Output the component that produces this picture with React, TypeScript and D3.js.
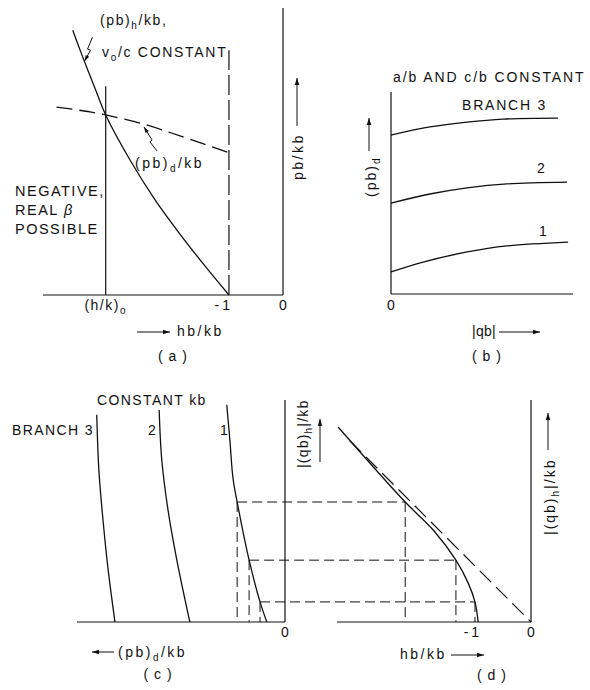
import React, { useRef, useEffect } from 'react';
import * as d3 from 'd3';

// (a) hb/kb against pb/kb
const hbH = [-3.89, -3.69, -3.48, -3.28, -2.83, -2.37, -1.91, -1.44, -1.0];
const pbH = [1.47, 1.31, 1.15, 1.0, 0.75, 0.53, 0.34, 0.16, 0];
const hbD = [-4.19, -3.57, -3.28, -2.59, -1.85, -1.0];
const pbD = [1.044, 1.017, 1.0, 0.95, 0.878, 0.79];
const hkZero = -3.28;
const ticksA = [{ v: hkZero, t: '(h/k)_o' }, { v: -1, t: '-1' }, { v: 0, t: '0' }];

// (b) |qb| against (pb)d, branches 3, 2, 1
const qbB = [[0, 2.14, 4.18, 6.15, 9.18], [0, 2.14, 4.18, 6.37, 9.67], [0, 1.76, 4.18, 6.37, 9.73]];
const pbdB = [[7.87, 8.27, 8.51, 8.66, 8.71], [4.5, 4.95, 5.25, 5.45, 5.54], [1.09, 1.58, 2.08, 2.38, 2.57]];
const branchB = ['BRANCH 3', '2', '1'];

// (c) (pb)d/kb against |(qb)h|/kb, branches 3, 2, 1
const pbdC = [[3.62, 3.58, 3.5, 3.4, 3.27], [2.42, 2.37, 2.25, 2.08, 1.83], [1.12, 1.06, 1.0, 0.92, 0.69, 0.48, 0.35]];
const qC = [[3.92, 2.88, 1.93, 0.98, 0], [4.01, 3.07, 2.12, 1.17, 0], [4.11, 3.44, 2.72, 2.27, 1.17, 0.38, 0]];
const branchC = ['BRANCH 3', '2', '1'];

// (d) hb/kb against |(qb)h|/kb
const hbDd = [-3.65, -2.38, -1.85, -1.42, -1.19, -1.06, -1.0];
const qD = [3.69, 2.27, 1.74, 1.17, 0.74, 0.38, 0];
const hbAsym = [-3.43, 0];
const qAsym = [3.43, 0];

// construction lines between (c) and (d)
const projQ = [2.27, 1.17, 0.38];
const projPbd = [0.92, 0.69, 0.48];
const projHb = [-2.38, -1.42, -1.06];

const FONT = "'Liberation Sans', Arial, Helvetica, sans-serif";
const INK = '#111';

type Opt = { anchor?: string; rotate?: boolean; ls?: number; size?: number };

// text with "_x" meaning subscript x
function addText(g: any, x: number, y: number, str: string, opt: Opt = {}) {
  const { anchor = 'start', rotate = false, ls = 1, size = 14 } = opt;
  const t = g.append('text')
    .attr('transform', `translate(${x},${y})` + (rotate ? ' rotate(-90)' : ''))
    .attr('text-anchor', anchor)
    .attr('font-size', size)
    .attr('fill', INK)
    .style('letter-spacing', `${ls}px`);
  const parts = str.split(/_(.)/);
  let cur = 0;
  parts.forEach((p, i) => {
    if (!p) return;
    const sub = i % 2 === 1;
    const target = sub ? 4 : 0;
    t.append('tspan')
      .attr('dy', target - cur)
      .attr('font-size', sub ? 10 : null)
      .text(p);
    cur = target;
  });
  return t;
}

function head(g: any, x1: number, y1: number, x2: number, y2: number, len = 7, w = 2.3) {
  const a = Math.atan2(y2 - y1, x2 - x1);
  const c = Math.cos(a), s = Math.sin(a);
  const pts: [number, number][] = [
    [x2, y2],
    [x2 - len * c + w * s, y2 - len * s - w * c],
    [x2 - len * c - w * s, y2 - len * s + w * c],
  ];
  g.append('path').attr('d', d3.line()(pts) + 'Z').attr('fill', INK);
}

function arrow(g: any, x1: number, y1: number, x2: number, y2: number) {
  g.append('line').attr('x1', x1).attr('y1', y1).attr('x2', x2).attr('y2', y2)
    .attr('stroke', INK).attr('stroke-width', 1);
  head(g, x1, y1, x2, y2);
}

function leader(g: any, pts: [number, number][]) {
  g.append('path').attr('d', d3.line()(pts)).attr('fill', 'none')
    .attr('stroke', INK).attr('stroke-width', 1);
  const n = pts.length;
  head(g, pts[n - 2][0], pts[n - 2][1], pts[n - 1][0], pts[n - 1][1], 6, 2);
}

function seg(g: any, x1: number, y1: number, x2: number, y2: number, dash: string | null = null, w = 1.2) {
  g.append('line').attr('x1', x1).attr('y1', y1).attr('x2', x2).attr('y2', y2)
    .attr('stroke', INK).attr('stroke-width', w)
    .attr('stroke-dasharray', dash);
}

function curve(g: any, xs: number[], ys: number[], sx: any, sy: any, dash: string | null = null) {
  const line = d3.line<number>()
    .x((d, i) => sx(xs[i]))
    .y((d, i) => sy(ys[i]))
    .curve(d3.curveCatmullRom.alpha(0.5));
  g.append('path').attr('d', line(xs)).attr('fill', 'none')
    .attr('stroke', INK).attr('stroke-width', 1.3)
    .attr('stroke-dasharray', dash);
}

const App = () => {
  const svgRef = useRef<SVGSVGElement>(null);

  useEffect(() => {
    const svg = d3.select(svgRef.current);
    svg.selectAll('*').remove();
    svg.append('rect').attr('width', 590).attr('height', 690).attr('fill', '#fff');
    const g = svg.append('g').attr('font-family', FONT);

    // ---------- (a)
    const xA = d3.scaleLinear().domain([-4.44, 0]).range([43, 283]);
    const yA = d3.scaleLinear().domain([0, 1.594]).range([295, 8]);
    seg(g, xA(-4.44), yA(0), xA(0), yA(0));
    seg(g, xA(0), yA(0), xA(0), yA(1.594));
    seg(g, xA(hkZero), yA(0), xA(hkZero), yA(1.16));
    seg(g, xA(-1), yA(0), xA(-1), yA(1.36), '20,5');
    curve(g, hbH, pbH, xA, yA);
    curve(g, hbD, pbD, xA, yA, '16,7');

    const tH: [number, number] = [xA(hbH[1]), yA(pbH[1])];
    leader(g, [[tH[0] + 9, tH[1] - 22], [tH[0] + 4, tH[1] - 10], [tH[0] + 7, tH[1] - 9], [tH[0] + 1, tH[1] + 2]]);
    const tD: [number, number] = [xA(hbD[3]), yA(pbD[3])];
    leader(g, [[tD[0] + 14, tD[1] + 27], [tD[0] + 7, tD[1] + 18], [tD[0] + 9, tD[1] + 16], [tD[0] + 1, tD[1] + 3]]);

    addText(g, 100, 25, '(pb)_h/kb,', { ls: 1.6 });
    addText(g, 102, 57, 'v_o/c CONSTANT', { ls: 1.7 });
    addText(g, 135, 168, '(pb)_d/kb', { ls: 2.5 });
    addText(g, 15, 196, 'NEGATIVE,', { ls: 1.5, size: 14.5 });
    const real = addText(g, 15, 215, 'REAL ', { ls: 1.5, size: 14.5 });
    real.append('tspan').attr('font-style', 'italic').text('β');
    addText(g, 15, 234, 'POSSIBLE', { ls: 1.5, size: 14.5 });

    ticksA.forEach((d) => {
      if (d.v === -1) addText(g, xA(d.v) + 4, 310, d.t, { anchor: 'end', ls: 3 });
      else addText(g, xA(d.v), 310, d.t, { anchor: 'middle', ls: d.v === 0 ? 0 : 1.5 });
    });
    arrow(g, 137, 332, 170, 332);
    addText(g, 177, 336, 'hb/kb', { ls: 2.5 });
    addText(g, 173, 361, '( a )', { anchor: 'middle', ls: 1 });
    addText(g, 303, 180, 'pb/kb', { rotate: true, ls: 2.5 });
    arrow(g, 297, 126, 297, 78);

    // ---------- (b)
    const xB = d3.scaleLinear().domain([0, 10]).range([391, 573]);
    const yB = d3.scaleLinear().domain([0, 10]).range([294, 92]);
    seg(g, xB(0), yB(0), xB(10), yB(0));
    seg(g, xB(0), yB(0), xB(0), yB(10));
    qbB.forEach((xs, i) => curve(g, xs, pbdB[i], xB, yB));
    addText(g, 393, 82, 'a/b AND c/b CONSTANT', { ls: 1.9 });
    addText(g, 462, 110, branchB[0], { ls: 1.8 });
    addText(g, 537, 173, branchB[1], { ls: 0 });
    addText(g, 539, 236, branchB[2], { ls: 0 });
    addText(g, xB(0), 310, '0', { anchor: 'middle', ls: 0 });
    addText(g, 376, 197, '(pb)_d', { rotate: true, ls: 2 });
    arrow(g, 369, 151, 369, 118);
    addText(g, 472, 336, '|qb|', { ls: 0.3 });
    arrow(g, 499, 332, 540, 332);
    addText(g, 487, 361, '( b )', { anchor: 'middle', ls: 1 });

    // ---------- (c) and (d)
    const xC = d3.scaleLinear().domain([0, 4]).range([285, 77]);
    const yQ = d3.scaleLinear().domain([0, 4.2]).range([622, 400]);
    const xD = d3.scaleLinear().domain([-3.67, 0]).range([337, 531]);

    seg(g, xC(4), yQ(0), xC(0), yQ(0));
    seg(g, xC(0), yQ(0), xC(0), yQ(4.2));
    pbdC.forEach((xs, i) => curve(g, xs, qC[i], xC, yQ));

    seg(g, xD(-3.67), yQ(0), xD(0), yQ(0));
    seg(g, xD(0), yQ(0), xD(0), yQ(4.2));
    curve(g, hbDd, qD, xD, yQ);
    seg(g, xD(hbAsym[0]), yQ(qAsym[0]), xD(hbAsym[1]), yQ(qAsym[1]), '16,7', 1.2);

    projQ.forEach((q, i) => {
      seg(g, xC(projPbd[i]), yQ(q), xD(projHb[i]), yQ(q), '10,5', 1);
      seg(g, xC(projPbd[i]), yQ(q), xC(projPbd[i]), yQ(0), '10,5', 1);
      seg(g, xD(projHb[i]), yQ(q), xD(projHb[i]), yQ(0), '10,5', 1);
    });

    addText(g, 97, 405, 'CONSTANT kb', { ls: 1.4 });
    addText(g, 12, 435, branchC[0], { ls: 1.4 });
    addText(g, 148, 435, branchC[1], { ls: 0 });
    addText(g, 220, 435, branchC[2], { ls: 0 });
    addText(g, xC(0), 637, '0', { anchor: 'middle', ls: 0 });
    arrow(g, 114, 652, 92, 652);
    addText(g, 118, 657, '(pb)_d/kb', { ls: 2.5 });
    addText(g, 158, 679, '( c )', { anchor: 'middle', ls: 1 });
    addText(g, 308, 468, '|(qb)_h|/kb', { rotate: true, ls: 1.2 });
    arrow(g, 320, 462, 320, 419);

    addText(g, xD(-1) + 4, 637, '-1', { anchor: 'end', ls: 3 });
    addText(g, xD(0), 637, '0', { anchor: 'middle', ls: 0 });
    addText(g, 400, 659, 'hb/kb', { ls: 2.5 });
    arrow(g, 451, 655, 484, 655);
    addText(g, 492, 680, '( d )', { anchor: 'middle', ls: 1 });
    addText(g, 555, 535, '|(qb)_h|/kb', { rotate: true, ls: 2 });
    arrow(g, 548, 450, 548, 413);
  }, []);

  return (
    <svg ref={svgRef} width={590} height={690}
      style={{ position: 'absolute', left: 0, top: 0, display: 'block' }} />
  );
};

export default App;
